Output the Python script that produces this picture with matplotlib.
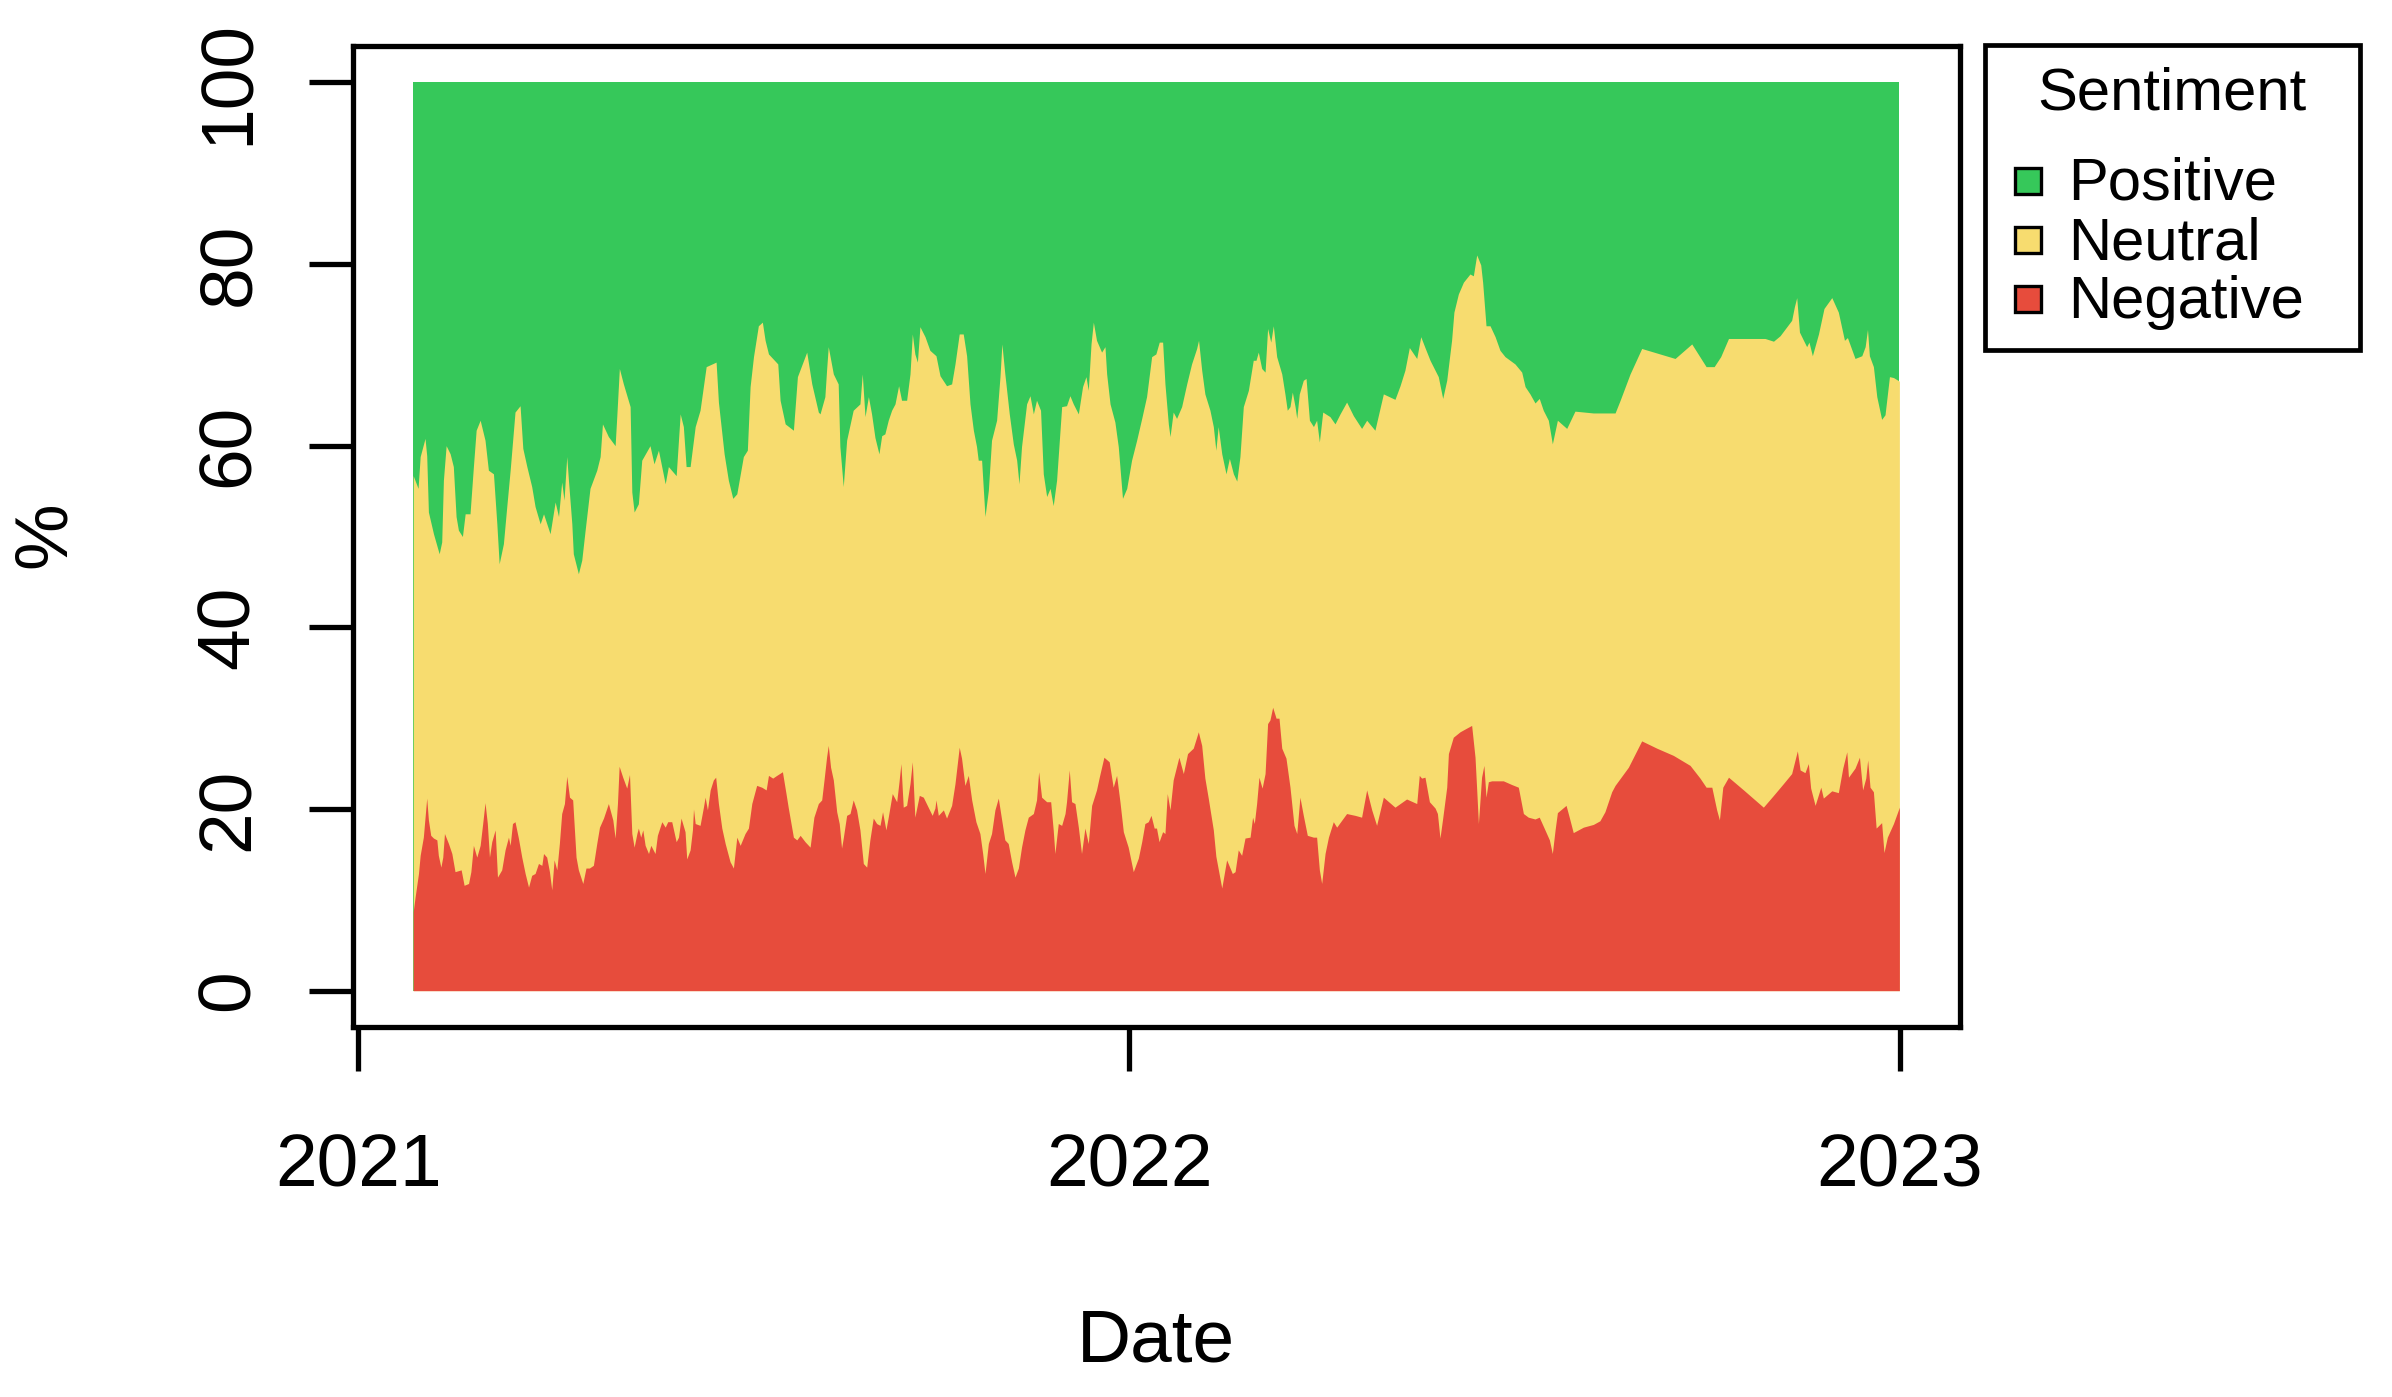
import numpy as np
import pandas as pd
import matplotlib
matplotlib.use("Agg")
from matplotlib import pyplot as plt
from matplotlib.patches import Rectangle

plt.rcParams['font.family'] = ['Liberation Sans', 'DejaVu Sans']

# colours of the three sentiment classes
GREEN = '#36c85a'
YELLOW = '#f7dc6f'
RED = '#e74c3c'

# days since 2021-01-01 and cumulative % (negative + neutral) = top of the yellow band
neu_days = [26.1, 28.4, 29.4, 31.7, 32.5, 33.3, 35.7, 38.4, 39.6, 40.4, 41.7, 43.6, 45.1, 46.4, 47.5, 49.4, 50.7, 53.0,
            54.6, 55.9, 57.8, 60.1, 61.7, 64.1, 65.7, 66.8, 68.8, 70.4, 72.0, 74.3, 76.7, 78.0, 79.9, 82.2, 83.8, 86.2,
            87.8, 90.9, 93.3, 94.9, 96.4, 97.5, 98.8, 99.6, 101.2, 101.9, 104.3, 105.9, 107.5, 109.8, 113.0, 114.6,
            115.7, 118.5, 121.7, 122.5, 123.7, 125.6, 128.8, 129.6, 130.7, 132.7, 134.3, 138.2, 140.1, 142.2, 145.4,
            146.9, 150.6, 152.5, 154.0, 155.3, 157.2, 159.6, 161.9, 164.8, 169.5, 170.6, 173.3, 175.3, 177.4, 179.3,
            182.4, 184.3, 185.6, 187.2, 189.5, 191.4, 192.7, 194.3, 198.7, 199.8, 202.2, 206.1, 208.0, 212.4, 214.8,
            217.9, 218.7, 221.0, 221.8, 222.6, 225.0, 227.3, 228.1, 229.7, 231.3, 234.4, 237.6, 238.7, 240.0, 241.6,
            243.1, 244.7, 246.6, 247.9, 249.4, 251.0, 252.6, 254.2, 255.9, 257.3, 259.7, 261.3, 262.4, 263.6, 264.8,
            266.0, 268.4, 270.7, 273.6, 275.5, 278.6, 281.0, 282.6, 284.6, 286.5, 288.1, 289.7, 291.3, 292.8, 293.6,
            295.2, 296.8, 298.4, 299.9, 302.3, 303.9, 304.8, 306.2, 308.3, 310.2, 311.8, 312.9, 314.1, 316.5, 318.1,
            319.7, 321.2, 323.1, 324.4, 326.0, 327.6, 329.1, 330.7, 333.1, 335.4, 337.0, 338.6, 341.0, 343.0, 344.6,
            345.7, 347.0, 348.1, 349.6, 352.0, 353.6, 354.4, 356.0, 358.3, 359.9, 361.9, 363.9, 366.2, 368.6, 371.0,
            373.3, 375.7, 377.7, 379.3, 380.9, 382.0, 383.6, 384.4, 385.9, 387.5, 389.9, 392.3, 394.6, 397.0, 397.9,
            399.4, 400.9, 403.3, 404.9, 406.1, 407.2, 408.9, 410.9, 412.5, 414.4, 416.0, 417.5, 419.1, 421.5, 423.8,
            425.1, 426.2, 427.8, 429.4, 430.6, 432.1, 433.3, 434.9, 437.3, 438.8, 439.9, 441.2, 442.3, 443.6, 444.4,
            445.6, 447.5, 448.8, 450.4, 452.3, 453.8, 455.1, 456.7, 460.1, 462.5, 464.9, 468.0, 471.2, 475.1, 477.5,
            481.4, 485.4, 490.9, 493.3, 495.6, 497.7, 501.2, 503.1, 505.1, 507.5, 511.4, 513.5, 515.4, 517.7, 518.8,
            520.9, 523.3, 526.4, 528.0, 529.6, 531.5, 532.4, 534.0, 535.9, 538.3, 540.6, 543.0, 547.7, 550.9, 552.5,
            554.8, 557.2, 559.2, 561.1, 563.5, 565.4, 567.8, 572.2, 576.1, 584.8, 595.1, 597.5, 602.2, 607.7, 623.5,
            631.4, 638.2, 642.0, 645.1, 648.8, 666.1, 670.1, 673.2, 678.7, 680.0, 681.1, 682.4, 684.3, 685.8, 686.9,
            688.5, 691.4, 694.0, 697.7, 700.8, 703.7, 705.1, 708.7, 711.9, 713.5, 714.6, 715.5, 717.4, 719.0, 721.3,
            722.9, 725.0, 726.9, 729.7]
neu_pct = [56.7, 55.3, 58.8, 60.8, 58.9, 52.7, 50.3, 48.1, 49.4, 56.2, 60.0, 59.1, 57.7, 52.2, 50.7, 50.0, 52.5, 52.5,
           57.7, 61.7, 62.8, 60.6, 57.3, 56.9, 51.4, 47.0, 49.2, 53.3, 57.3, 63.7, 64.4, 59.7, 57.7, 55.5, 53.3, 51.4,
           52.5, 50.3, 53.8, 52.2, 56.0, 54.0, 58.8, 56.2, 51.4, 48.1, 45.9, 47.4, 50.7, 55.3, 57.3, 58.8,
           62.4, 61.0, 60.0, 63.3, 68.5, 66.8, 64.3, 54.9, 52.7, 53.6, 58.4, 60.0, 58.0, 59.5, 55.8,
           57.7, 56.7, 63.5, 62.1, 57.7, 57.7, 62.1, 63.9, 68.7, 69.2, 64.8, 59.1, 56.2, 54.2, 54.7,
           58.8, 59.5, 66.5, 69.8, 73.2, 73.6, 71.6, 70.1, 69.0, 65.0, 62.4, 61.7, 67.6, 70.3, 66.8,
           63.7, 63.5, 65.4, 68.3, 70.9, 67.9, 66.8, 59.9, 55.5, 60.6, 63.9, 64.6, 67.9, 63.2, 65.4,
           63.5, 60.9, 59.1, 61.1, 61.3, 62.8, 63.9, 64.6, 66.6, 65.0, 65.0, 67.9, 72.3, 70.1, 69.2,
           73.1, 72.0, 70.5, 69.9, 67.7, 66.6, 66.8, 69.0, 72.3, 72.3, 69.9, 64.6, 61.7, 59.9, 58.4,
           58.4, 52.2, 55.1, 60.6, 62.8, 67.6, 71.2, 67.9, 63.5, 60.2, 58.4, 55.8, 59.9, 64.6, 65.5,
           63.5, 65.0, 63.9, 56.9, 54.4, 55.3, 53.4, 56.2, 64.3, 64.4, 65.5, 64.6, 63.5, 66.5, 67.6,
           66.1, 71.2, 73.6, 71.6, 70.3, 70.9, 67.9, 64.6, 62.6, 59.9, 54.2, 55.3, 58.4, 60.6, 63.0,
           65.4, 69.8, 70.1, 71.4, 71.4, 66.8, 62.4, 61.0, 63.7, 63.0, 64.3, 66.8, 69.0, 70.7, 71.6,
           68.3, 65.7, 63.9, 62.1, 59.5, 62.1, 59.1, 56.9, 58.6, 56.9, 56.1, 58.8, 64.3, 66.1, 69.4,
           69.4, 70.3, 68.5, 68.1, 72.9, 71.4, 73.2, 69.8, 67.9, 65.7, 63.9, 64.3, 65.9, 64.3, 63.0,
           65.7, 67.2, 67.4, 62.8, 62.1, 62.8, 60.4, 63.7, 63.2, 62.4, 63.5, 64.8, 63.3, 61.9, 62.8,
           61.7, 65.7, 65.1, 66.6, 68.3, 70.8, 69.6, 72.0, 70.8, 69.4, 67.6, 65.2, 67.2, 71.6, 74.7,
           76.7, 78.0, 78.9, 78.7, 81.0, 79.9, 78.0, 73.2, 73.2, 72.0, 70.5, 69.8, 69.0, 68.1, 66.5,
           65.7, 64.7, 65.2, 63.9, 62.8, 60.2, 62.8, 61.9, 63.8, 63.6, 63.6, 65.0, 67.9, 70.7, 69.6,
           71.2, 68.7, 68.7, 69.8, 71.8, 71.8, 71.5, 72.1, 73.8, 75.3, 76.3, 72.5, 71.6, 70.9, 71.4,
           69.9, 72.3, 75.1, 76.3, 74.7, 71.6, 71.9, 69.6, 69.9, 70.9, 72.8, 69.9, 68.7, 65.4, 62.9,
           63.4, 67.6, 67.5, 67.1]

# days since 2021-01-01 and % negative = top of the red band
neg_days = [26.1, 27.0, 27.8, 28.6, 29.4, 30.9, 32.5, 33.3, 34.4, 35.7, 37.3, 38.0, 39.2, 40.1, 40.9, 42.8, 44.4, 45.9,
            48.8, 50.2, 52.3, 53.4, 54.6, 56.2, 57.8, 59.0, 60.1, 61.2, 62.2, 63.3, 64.9, 66.0, 68.0, 69.6, 71.2, 72.0,
            73.1, 74.3, 75.9, 77.5, 79.1, 80.7, 82.2, 83.8, 85.4, 87.0, 87.8, 89.3, 90.6, 91.7, 92.8, 94.1, 95.3, 96.4,
            97.7, 98.8, 100.1, 101.6, 103.2, 104.3, 106.4, 107.9, 109.5, 111.4, 113.0, 114.3, 116.2, 118.5, 120.6,
            121.7, 122.8, 123.6, 125.3, 127.2, 128.5, 129.6, 130.7, 132.0, 132.7, 133.8, 134.8, 135.9, 137.5, 138.6,
            140.6, 141.7, 143.8, 145.4, 146.6, 148.5, 150.6, 151.7, 152.9, 154.8, 155.6, 157.2, 158.3, 158.8, 159.6,
            161.9, 163.5, 164.3, 165.4, 166.7, 168.2, 169.3, 170.6, 172.2, 173.8, 176.1, 177.7, 179.3, 180.9, 183.2,
            184.8, 186.4, 188.7, 191.1, 193.2, 194.3, 196.3, 198.2, 200.9, 202.6, 203.7, 206.1, 207.7, 209.3, 211.6,
            214.0, 215.8, 217.9, 219.5, 220.6, 221.8, 222.6, 223.7, 225.0, 226.6, 227.8, 228.9, 229.7, 231.3, 232.9,
            234.4, 236.0, 237.6, 239.2, 240.8, 242.3, 243.9, 245.5, 247.1, 248.3, 249.9, 251.0, 252.9, 255.0, 256.1,
            257.0, 258.1, 259.7, 261.3, 262.4, 263.6, 265.7, 267.6, 269.9, 271.8, 273.1, 273.6, 274.7, 277.1, 278.6,
            281.0, 282.6, 284.6, 285.7, 287.3, 288.9, 290.5, 292.5, 294.4, 295.7, 296.8, 298.4, 299.9, 301.5, 303.1,
            304.7, 306.2, 307.8, 309.4, 311.0, 312.6, 314.1, 315.7, 317.3, 319.7, 321.2, 322.2, 323.6, 326.0, 327.9,
            329.1, 329.9, 331.5, 333.1, 334.7, 335.4, 336.7, 337.8, 339.4, 341.0, 342.5, 344.1, 345.7, 347.3, 349.6,
            350.9, 353.1, 355.6, 357.5, 359.1, 360.7, 362.3, 364.6, 367.0, 369.4, 371.0, 372.5, 374.1, 375.4, 376.9,
            378.0, 379.2, 380.9, 382.0, 383.1, 384.4, 385.9, 388.6, 390.7, 392.7, 395.4, 397.8, 399.4, 400.9, 402.5,
            404.9, 406.1, 408.9, 411.2, 413.9, 415.2, 416.7, 418.3, 419.9, 422.3, 423.5, 424.3, 425.4, 426.5, 428.0,
            429.4, 430.6, 431.7, 433.0, 434.6, 436.0, 437.3, 439.3, 441.2, 443.1, 444.4, 445.9, 447.5, 449.4, 452.3,
            453.8, 455.1, 456.2, 457.8, 459.4, 461.7, 463.3, 468.0, 472.0, 475.1, 477.5, 479.9, 482.2, 485.4, 490.9,
            496.4, 501.2, 502.4, 503.5, 505.1, 507.2, 509.9, 511.0, 512.2, 513.5, 515.4, 516.2, 518.5, 521.7, 524.8,
            527.2, 528.8, 529.6, 530.4, 531.9, 533.0, 534.0, 535.1, 536.7, 542.2, 546.1, 549.3, 551.7, 554.0, 557.2,
            559.2, 561.9, 564.0, 565.4, 566.7, 567.8, 571.9, 573.4, 575.3, 580.1, 584.8, 587.9, 590.3, 593.5, 595.1,
            601.4, 607.7, 614.8, 622.7, 630.6, 635.3, 638.2, 640.9, 643.2, 644.5, 646.1, 648.8, 655.9, 665.3, 670.1,
            674.8, 678.7, 681.4, 682.7, 685.0, 686.6, 687.7, 689.8, 692.5, 693.7, 697.7, 700.8, 702.9, 704.8, 705.6,
            708.7, 710.8, 712.3, 713.8, 714.7, 715.8, 717.4, 718.7, 721.3, 722.4, 724.0, 726.9, 729.7]
neg_pct = [8.7, 10.3, 11.6, 12.9, 14.9, 16.9, 21.2, 18.8, 17.1, 16.8, 16.6, 14.9, 13.6, 14.7, 17.3, 16.2, 15.1, 13.1,
           13.3, 11.6, 11.8, 13.1, 16.0, 14.7, 16.0, 18.4, 20.7, 18.4, 14.7, 16.4, 17.7, 12.5, 13.3, 15.5, 16.9, 16.0,
           18.4, 18.6, 16.8, 14.7, 12.9, 11.4, 12.7, 12.9, 14.0, 13.8, 15.1, 14.7, 13.1, 11.1, 14.4, 13.3, 16.2, 19.5,
           20.6, 23.6, 21.3, 21.0, 14.7, 13.3, 11.8, 13.5, 13.5, 13.8, 16.2, 18.0, 19.0, 20.6, 18.8,
           16.8, 20.6, 24.7, 23.5, 22.3, 23.8, 17.3, 15.8, 17.3, 17.9, 16.9, 17.7, 16.0, 15.1, 16.0,
           15.1, 17.1, 18.6, 18.0, 18.6, 18.6, 16.4, 16.9, 19.0, 17.5, 14.5, 15.5, 17.7, 20.0, 18.4,
           18.2, 20.2, 21.3, 19.9, 22.1, 23.2, 23.5, 20.6, 17.9, 16.2, 14.2, 13.5, 16.9, 16.0, 17.3,
           17.9, 20.6, 22.6, 22.4, 22.1, 23.7, 23.4, 23.7, 24.1, 21.7, 20.1, 16.9, 16.6, 17.1, 16.4,
           15.8, 19.1, 20.6, 21.0, 23.2, 25.7, 27.0, 24.6, 23.2, 19.7, 18.4, 15.7, 16.8, 19.3, 19.5,
           21.0, 19.9, 17.7, 14.0, 13.6, 16.6, 19.0, 18.4, 18.2, 19.7, 17.7, 19.1, 21.7, 20.8, 23.0,
           25.0, 20.2, 20.4, 22.8, 25.2, 19.1, 21.5, 21.3, 20.2, 19.3, 20.1, 21.0, 19.3, 19.9, 19.0,
           20.4, 22.8, 26.8, 25.6, 22.6, 23.7, 21.0, 18.6, 17.3, 15.1, 12.9, 16.2, 17.3, 19.9, 21.2,
           18.8, 16.6, 16.2, 14.2, 12.5, 13.5, 15.8, 17.7, 19.1, 19.5, 21.0, 24.1, 21.3, 20.8, 20.8,
           17.7, 15.1, 18.4, 18.2, 19.5, 20.8, 24.3, 20.8, 20.6, 18.0, 15.1, 17.9, 16.2, 20.4, 22.1,
           23.5, 25.7, 25.2, 22.4, 23.7, 20.8, 17.5, 15.8, 13.1, 14.6, 16.4, 18.4, 18.6, 19.3, 17.9,
           17.9, 16.4, 17.5, 17.3, 21.7, 19.9, 23.2, 25.7, 23.9, 26.1, 26.7, 28.5, 27.0, 23.4, 21.2,
           17.7, 14.8, 11.3, 14.4, 12.9, 13.1, 15.5, 14.9, 16.8, 16.9, 19.1, 18.4, 20.6, 23.5, 22.3,
           23.9, 29.4, 29.8, 31.2, 30.0, 30.0, 26.7, 25.6, 22.4, 18.2, 17.3, 21.3, 19.3, 17.1, 16.9,
           16.9, 13.3, 11.8, 15.1, 16.9, 18.6, 18.0, 19.5, 19.3, 19.1, 22.1, 19.9, 18.2, 21.3, 20.2,
           21.1, 20.6, 23.7, 23.4, 23.5, 20.8, 20.1, 19.5, 16.8, 19.0, 22.4, 26.1, 27.9, 28.5, 28.9,
           29.2, 25.7, 22.1, 18.4, 23.5, 24.8, 21.3, 23.0, 23.1, 23.1, 22.7, 22.4, 19.5, 19.1, 18.9,
           19.1, 17.7, 16.6, 15.1, 17.7, 19.6, 20.4, 19.1, 17.4, 18.0, 18.3, 18.7, 19.7, 21.9, 22.6,
           24.6, 27.5, 26.7, 25.9, 24.8, 23.4, 22.4, 22.4, 19.9, 18.8, 22.4, 23.5, 22.1, 20.2, 21.5,
           22.8, 23.9, 26.4, 24.3, 24.0, 25.0, 22.3, 20.4, 22.4, 21.2, 22.0, 21.8, 24.5, 26.3, 23.5,
           24.5, 25.7, 22.1, 23.4, 25.4, 22.4, 21.9, 17.9, 18.5, 15.2, 16.9, 18.4, 20.2]

legend_labels = ['Positive', 'Neutral', 'Negative']
legend_colors = [GREEN, YELLOW, RED]
year_ticks = ['2021-01-01', '2022-01-01', '2023-01-01']
year_labels = ['2021', '2022', '2023']
y_ticks = [0, 20, 40, 60, 80, 100]

start = pd.Timestamp('2021-01-01')


def to_dates(days):
    return start + pd.to_timedelta(np.array(days), unit='D')


W, H = 2392, 1397
fig = plt.figure(figsize=(W / 100, H / 100), dpi=100)
ax = fig.add_axes([353 / W, 1 - 1027 / H, (1960 - 353) / W, (1027 - 46) / H])

top_dates = to_dates(neu_days)
ax.fill_between(top_dates, 0, 100, color=GREEN, lw=0)
ax.fill_between(top_dates, 0, neu_pct, color=YELLOW, lw=0)
ax.fill_between(to_dates(neg_days), 0, neg_pct, color=RED, lw=0)

ax.set_ylim(-4, 104)
ax.set_xlim(start - pd.Timedelta(days=2.4), start + pd.Timedelta(days=758.4))
ax.set_yticks(y_ticks)
ax.set_yticklabels([str(t) for t in y_ticks], rotation=90, va='center')
ax.set_xticks(pd.to_datetime(year_ticks))
ax.set_xticklabels(year_labels)
ax.tick_params(length=32, width=3.8, labelsize=54, direction='out')
ax.tick_params(axis='x', pad=44)
ax.tick_params(axis='y', pad=32)
for s in ax.spines.values():
    s.set_linewidth(3.8)

fig.text(1156 / W, 1 - 1362 / H, 'Date', ha='center', va='baseline', fontsize=54)
fig.text(45 / W, 1 - 535 / H, '%', rotation=90, ha='center', va='center', fontsize=54)

# legend box drawn by hand, R style
fig.add_artist(Rectangle((1985 / W, 1 - 350 / H), (2360 - 1985) / W, (350 - 45) / H,
                         transform=fig.transFigure, fill=False, lw=3.4, ec='black'))
fig.text(2172 / W, 1 - 109 / H, 'Sentiment', ha='center', va='baseline', fontsize=43)
for lab, col, yc, yb in zip(legend_labels, legend_colors, [181, 240, 299], [200, 259, 318]):
    fig.add_artist(Rectangle((2015 / W, 1 - (yc + 13) / H), 26 / W, 26 / H,
                             transform=fig.transFigure, fc=col, ec='black', lw=2.4))
    fig.text(2068 / W, 1 - yb / H, lab, va='baseline', fontsize=43)

fig.savefig('out.png', dpi=100)
